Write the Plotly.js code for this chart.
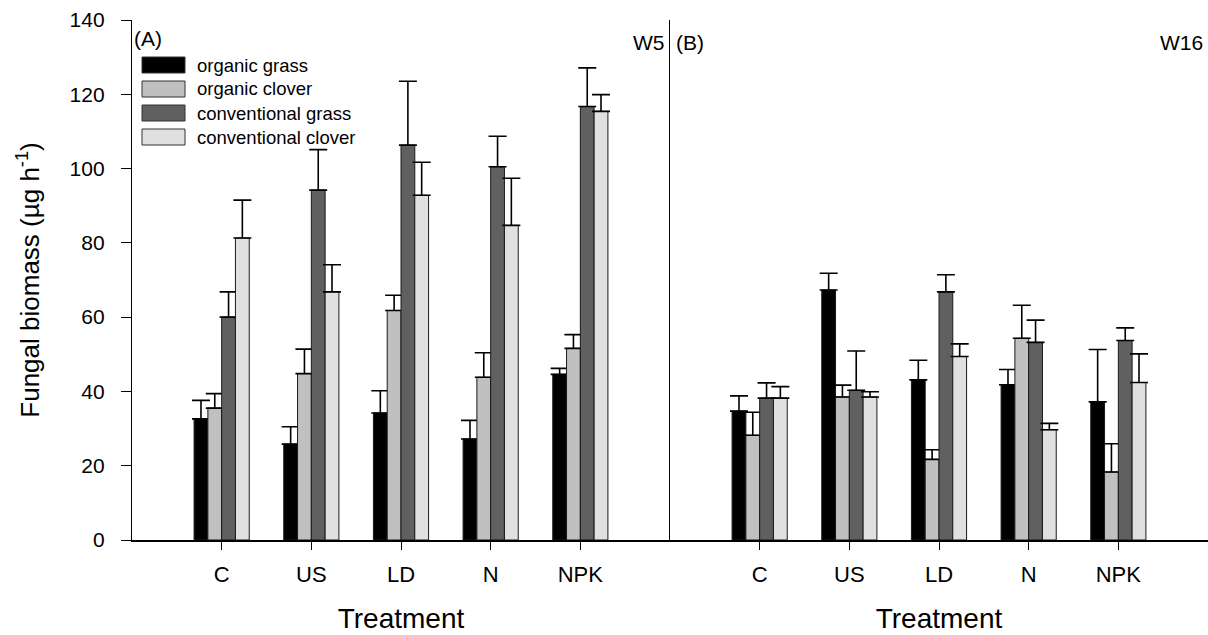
<!DOCTYPE html>
<html>
<head>
<meta charset="utf-8">
<script src="https://cdn.plot.ly/plotly-3.0.1.min.js"></script>
<style>html,body{margin:0;padding:0;background:#fff;}</style>
</head>
<body>
<div id="chart" style="width:1208px;height:635px;"></div>
<script>
// ---- data ----
const treatments = ["C", "US", "LD", "N", "NPK"];
const seriesNames = ["organic grass", "organic clover", "conventional grass", "conventional clover"];
const seriesColors = ["#000000", "#c0c0c0", "#606060", "#e0e0e0"];

// Panel A (W5)
const w5OrganicGrass = [32.6, 25.8, 34.2, 27.2, 44.6];
const w5OrganicClover = [35.5, 44.8, 61.8, 43.8, 51.6];
const w5ConvGrass = [60.0, 94.2, 106.3, 100.5, 116.7];
const w5ConvClover = [81.3, 66.8, 92.8, 84.7, 115.4];
const w5OrganicGrassErr = [5.0, 4.7, 6.0, 5.0, 1.6];
const w5OrganicCloverErr = [3.9, 6.6, 4.1, 6.6, 3.7];
const w5ConvGrassErr = [6.8, 10.9, 17.2, 8.2, 10.4];
const w5ConvCloverErr = [10.2, 7.3, 8.9, 12.7, 4.5];

// Panel B (W16)
const w16OrganicGrass = [34.7, 67.3, 43.1, 41.8, 37.2];
const w16OrganicClover = [28.2, 38.5, 21.7, 54.3, 18.3];
const w16ConvGrass = [38.2, 40.3, 66.8, 53.2, 53.7];
const w16ConvClover = [38.2, 38.5, 49.4, 29.7, 42.4];
const w16OrganicGrassErr = [4.1, 4.5, 5.3, 4.1, 14.1];
const w16OrganicCloverErr = [6.2, 3.2, 2.6, 8.9, 7.6];
const w16ConvGrassErr = [4.1, 10.6, 4.6, 6.0, 3.4];
const w16ConvCloverErr = [3.1, 1.4, 3.4, 1.7, 7.7];

const yTicks = [0, 20, 40, 60, 80, 100, 120, 140];

// ---- build ----
const panelA = [w5OrganicGrass, w5OrganicClover, w5ConvGrass, w5ConvClover];
const panelAErr = [w5OrganicGrassErr, w5OrganicCloverErr, w5ConvGrassErr, w5ConvCloverErr];
const panelB = [w16OrganicGrass, w16OrganicClover, w16ConvGrass, w16ConvClover];
const panelBErr = [w16OrganicGrassErr, w16OrganicCloverErr, w16ConvGrassErr, w16ConvCloverErr];

function mkTrace(vals, errs, i, xa, ya) {
  return {
    type: "bar", x: treatments, y: vals, name: seriesNames[i],
    xaxis: xa, yaxis: ya, showlegend: false,
    marker: {color: seriesColors[i], line: {color: "#1a1a1a", width: 1}},
    error_y: {type: "data", symmetric: false, array: errs,
              arrayminus: errs.map(() => 0), color: "#000", thickness: 1.6, width: 9},
    hoverinfo: "skip"
  };
}
const traces = [];
panelA.forEach((v, i) => traces.push(mkTrace(v, panelAErr[i], i, "x", "y")));
panelB.forEach((v, i) => traces.push(mkTrace(v, panelBErr[i], i, "x2", "y2")));

const W = 1208, H = 635;
const M = {l: 132, r: 0, t: 20, b: 95};
const pw = W - M.l - M.r, ph = H - M.t - M.b;
const px2x = p => (p - M.l) / pw;
const px2y = p => (H - M.b - p) / ph;

const shapes = [];
const annotations = [];
// custom legend (large swatches like the original)
const legRows = [65, 89, 113, 137];
seriesNames.forEach((n, i) => {
  const cy = legRows[i];
  shapes.push({type: "rect", xref: "paper", yref: "paper",
    x0: px2x(142), x1: px2x(185), y0: px2y(cy + 8), y1: px2y(cy - 8),
    fillcolor: seriesColors[i], line: {color: "#333", width: 1}});
  annotations.push({xref: "paper", yref: "paper", x: px2x(195), y: px2y(cy),
    xanchor: "left", yanchor: "middle", text: n, showarrow: false,
    font: {size: 18.5, color: "#000"}});
});
const panelFont = {size: 21, color: "#000"};
annotations.push({xref: "paper", yref: "paper", x: px2x(132), y: px2y(39), xanchor: "left", yanchor: "middle",
  text: "(A)", showarrow: false, font: panelFont});
annotations.push({xref: "paper", yref: "paper", x: px2x(667), y: px2y(43), xanchor: "right", yanchor: "middle",
  text: "W5", showarrow: false, font: panelFont});
annotations.push({xref: "paper", yref: "paper", x: px2x(674), y: px2y(43), xanchor: "left", yanchor: "middle",
  text: "(B)", showarrow: false, font: panelFont});
annotations.push({xref: "paper", yref: "paper", x: px2x(1205), y: px2y(43), xanchor: "right", yanchor: "middle",
  text: "W16", showarrow: false, font: panelFont});

const xBase = {
  type: "category", range: [-1, 5], showline: true, linecolor: "#000", linewidth: 1.5,
  ticks: "outside", ticklen: 8, tickcolor: "#000", tickwidth: 1,
  tickfont: {size: 22, color: "#000"}, ticklabelstandoff: 6,
  showgrid: false, zeroline: false, fixedrange: true,
  title: {text: "Treatment", font: {size: 28, color: "#000"}, standoff: 22}
};

const layout = {
  width: W, height: H,
  margin: M,
  paper_bgcolor: "#fff", plot_bgcolor: "#fff",
  font: {family: "Arial, 'Liberation Sans', sans-serif", color: "#000"},
  barmode: "group", bargap: 0.385, bargroupgap: 0,
  xaxis: Object.assign({}, xBase, {domain: [0, 0.5], anchor: "y"}),
  xaxis2: Object.assign({}, xBase, {domain: [0.5, 1], anchor: "y2"}),
  yaxis: {
    domain: [0, 1], range: [0, 140], tickvals: yTicks, ticktext: yTicks.map(String),
    showline: true, linecolor: "#000", linewidth: 1.2,
    ticks: "outside", ticklen: 10, tickcolor: "#000", tickwidth: 1,
    tickfont: {size: 21, color: "#000"}, ticklabelstandoff: 12,
    showgrid: false, zeroline: false, fixedrange: true,
    title: {text: "Fungal biomass (µg h<sup>-1</sup>)", font: {size: 26, color: "#000"}, standoff: 22}
  },
  yaxis2: {
    domain: [0, 1], range: [0, 140], anchor: "x2", matches: "y",
    showline: true, linecolor: "#000", linewidth: 1,
    ticks: "", showticklabels: false, showgrid: false, zeroline: false, fixedrange: true
  },
  showlegend: false,
  shapes: shapes,
  annotations: annotations
};

Plotly.newPlot("chart", traces, layout, {displayModeBar: false, staticPlot: true});
</script>
</body>
</html>
